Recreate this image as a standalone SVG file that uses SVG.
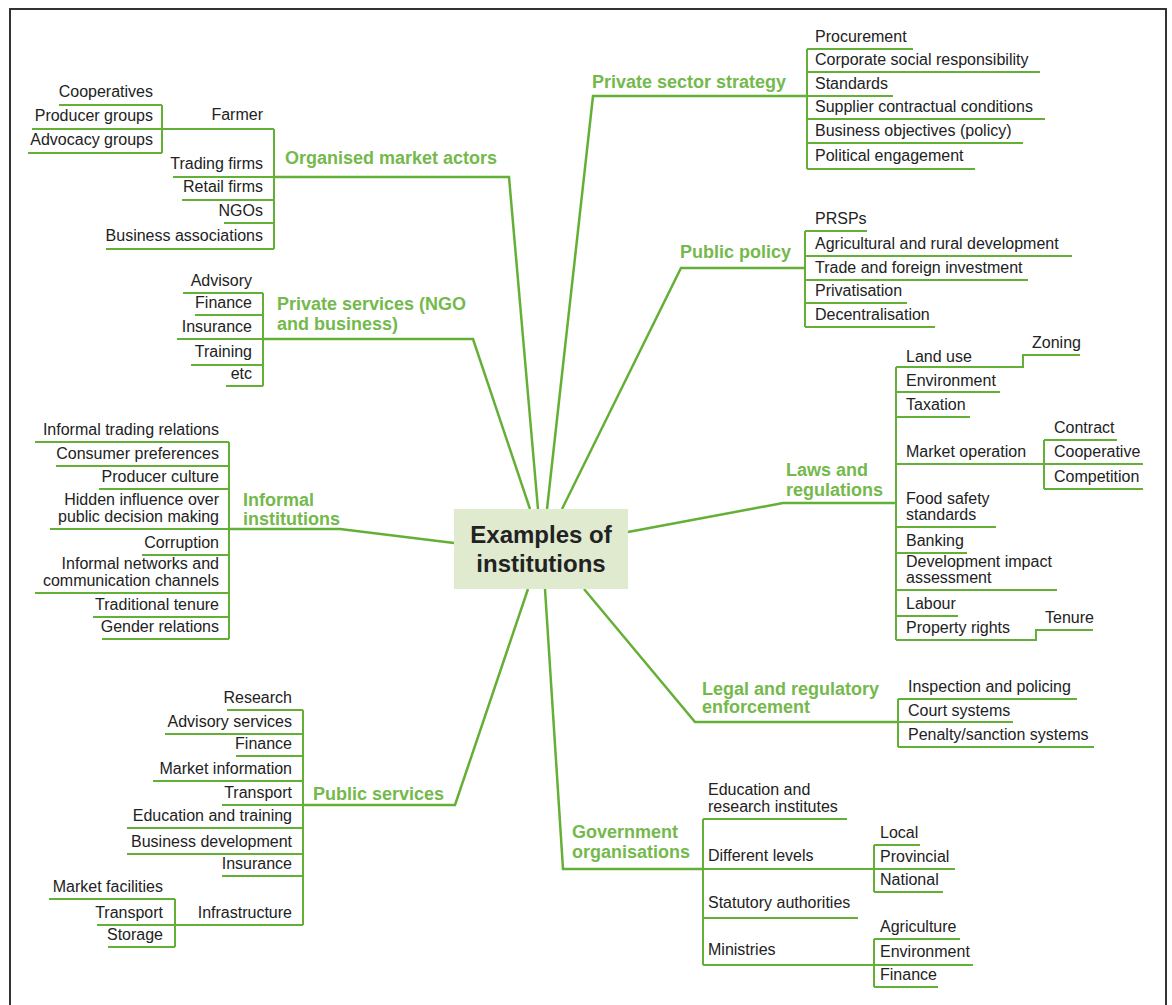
<svg xmlns="http://www.w3.org/2000/svg" width="1172" height="1005" viewBox="0 0 1172 1005">
<style>
.ln{stroke:#64b036;stroke-width:2;fill:none}
.br{stroke:#64b036;stroke-width:2.5;fill:none}
.t{font-family:"Liberation Sans",Arial,sans-serif;font-size:16px;fill:#222}
.e{text-anchor:end}
.lb{font-family:"Liberation Sans",Arial,sans-serif;font-weight:bold;font-size:18px;fill:#74b94c}
.c{font-family:"Liberation Sans",Arial,sans-serif;font-weight:bold;font-size:24px;fill:#222;text-anchor:middle}
</style>
<rect x="0" y="0" width="1172" height="1005" fill="#fff"/>
<rect x="10" y="9" width="1156" height="1010" fill="none" stroke="#333" stroke-width="2"/>

<g id="connectors">
  <!-- main branches -->
  <path class="br" d="M538,509 L509,177 L274,177"/>
  <path class="br" d="M530,509 L473,339 L263,339"/>
  <path class="br" d="M547,509 L593,96 L807,96"/>
  <path class="br" d="M562,509 L681,268 L805,268"/>
  <path class="br" d="M454,543 L340,529 L229,529"/>
  <path class="br" d="M628,532 L783,503 L896,503"/>
  <path class="br" d="M584,589 L695,722 L898,722"/>
  <path class="br" d="M545,589 L563,869 L703,869"/>
  <path class="br" d="M528,589 L455,805 L303,805"/>
  <!-- organised market actors -->
  <path class="ln" d="M274,129 V249 M274,129 H32 M162,105 V153 M59,105 H162 M28,153 H162 M173,177 H274 M182,200 H274 M224,223 H274 M106,249 H274"/>
  <!-- private services -->
  <path class="ln" d="M263,293 V386 M183,293 H263 M195,315 H263 M177,339 H263 M191,365 H263 M226,386 H263"/>
  <!-- informal institutions -->
  <path class="ln" d="M229,442 V639 M35,442 H229 M56,466 H229 M99,489 H229 M50,529 H229 M142,555 H229 M35,593 H229 M93,617 H229 M102,639 H229"/>
  <!-- public services -->
  <path class="ln" d="M303,710 V925 M227,710 H303 M165,734 H303 M236,756 H303 M153,781 H303 M222,805 H303 M127,828 H303 M127,854 H303 M222,876 H303 M97,925 H303 M175,899 V947 M49,899 H175 M108,947 H175"/>
  <!-- private sector strategy -->
  <path class="ln" d="M807,49 V169 M807,49 H913 M807,72 H1040 M807,96 H893 M807,119 H1045 M807,143 H1023 M807,169 H975"/>
  <!-- public policy -->
  <path class="ln" d="M805,231 V327 M805,231 H867 M805,256 H1072 M805,280 H1028 M805,303 H907 M805,327 H935"/>
  <!-- laws and regulations -->
  <path class="ln" d="M896,367 V640 M896,367 H1023 V355 H1080 M896,392 H1000 M896,417 H970 M896,464 H1143 M1044,440 V489 M1044,440 H1117 M1044,489 H1143 M896,527 H996 M896,553 H967 M896,590 H1057 M896,616 H958 M896,640 H1036 V630 H1093"/>
  <!-- legal enforcement -->
  <path class="ln" d="M898,699 V747 M898,699 H1077 M898,722 H1013 M898,747 H1094"/>
  <!-- government organisations -->
  <path class="ln" d="M703,819 V965 M703,819 H847 M703,869 H955 M874,845 V892 M874,845 H920 M874,892 H943 M703,918 H858 M703,965 H973 M874,939 V987 M874,939 H960 M874,987 H938"/>
</g>

<g id="center">
  <rect x="454" y="509" width="174" height="80" fill="#dfeacf"/>
  <text class="c" x="541" y="543">Examples of</text>
  <text class="c" x="541" y="572">institutions</text>
</g>

<g id="organised-market-actors">
  <text class="lb" x="285" y="164">Organised market actors</text>
  <text class="t e" x="263" y="120">Farmer</text>
  <text class="t e" x="153" y="97">Cooperatives</text>
  <text class="t e" x="153" y="121">Producer groups</text>
  <text class="t e" x="153" y="145">Advocacy groups</text>
  <text class="t e" x="263" y="169">Trading firms</text>
  <text class="t e" x="263" y="192">Retail firms</text>
  <text class="t e" x="263" y="216">NGOs</text>
  <text class="t e" x="263" y="241">Business associations</text>
</g>

<g id="private-services">
  <text class="lb" x="277" y="310">Private services (NGO</text>
  <text class="lb" x="277" y="330">and business)</text>
  <text class="t e" x="252" y="286">Advisory</text>
  <text class="t e" x="252" y="308">Finance</text>
  <text class="t e" x="252" y="332">Insurance</text>
  <text class="t e" x="252" y="357">Training</text>
  <text class="t e" x="252" y="379">etc</text>
</g>

<g id="informal-institutions">
  <text class="lb" x="243" y="506">Informal</text>
  <text class="lb" x="243" y="525">institutions</text>
  <text class="t e" x="219" y="435">Informal trading relations</text>
  <text class="t e" x="219" y="459">Consumer preferences</text>
  <text class="t e" x="219" y="482">Producer culture</text>
  <text class="t e" x="219" y="505">Hidden influence over</text>
  <text class="t e" x="219" y="522">public decision making</text>
  <text class="t e" x="219" y="548">Corruption</text>
  <text class="t e" x="219" y="569">Informal networks and</text>
  <text class="t e" x="219" y="586">communication channels</text>
  <text class="t e" x="219" y="610">Traditional tenure</text>
  <text class="t e" x="219" y="632">Gender relations</text>
</g>

<g id="public-services">
  <text class="lb" x="313" y="800">Public services</text>
  <text class="t e" x="292" y="703">Research</text>
  <text class="t e" x="292" y="727">Advisory services</text>
  <text class="t e" x="292" y="749">Finance</text>
  <text class="t e" x="292" y="774">Market information</text>
  <text class="t e" x="292" y="798">Transport</text>
  <text class="t e" x="292" y="821">Education and training</text>
  <text class="t e" x="292" y="847">Business development</text>
  <text class="t e" x="292" y="869">Insurance</text>
  <text class="t e" x="292" y="918">Infrastructure</text>
  <text class="t e" x="163" y="892">Market facilities</text>
  <text class="t e" x="163" y="918">Transport</text>
  <text class="t e" x="163" y="940">Storage</text>
</g>

<g id="private-sector-strategy">
  <text class="lb" x="592" y="88">Private sector strategy</text>
  <text class="t" x="815" y="42">Procurement</text>
  <text class="t" x="815" y="65">Corporate social responsibility</text>
  <text class="t" x="815" y="89">Standards</text>
  <text class="t" x="815" y="112">Supplier contractual conditions</text>
  <text class="t" x="815" y="136">Business objectives (policy)</text>
  <text class="t" x="815" y="161">Political engagement</text>
</g>

<g id="public-policy">
  <text class="lb" x="680" y="258">Public policy</text>
  <text class="t" x="815" y="224">PRSPs</text>
  <text class="t" x="815" y="249">Agricultural and rural development</text>
  <text class="t" x="815" y="273">Trade and foreign investment</text>
  <text class="t" x="815" y="296">Privatisation</text>
  <text class="t" x="815" y="320">Decentralisation</text>
</g>

<g id="laws-and-regulations">
  <text class="lb" x="786" y="476">Laws and</text>
  <text class="lb" x="786" y="496">regulations</text>
  <text class="t" x="906" y="362">Land use</text>
  <text class="t" x="1032" y="348">Zoning</text>
  <text class="t" x="906" y="386">Environment</text>
  <text class="t" x="906" y="410">Taxation</text>
  <text class="t" x="906" y="457">Market operation</text>
  <text class="t" x="1054" y="433">Contract</text>
  <text class="t" x="1054" y="457">Cooperative</text>
  <text class="t" x="1054" y="482">Competition</text>
  <text class="t" x="906" y="504">Food safety</text>
  <text class="t" x="906" y="520">standards</text>
  <text class="t" x="906" y="546">Banking</text>
  <text class="t" x="906" y="567">Development impact</text>
  <text class="t" x="906" y="583">assessment</text>
  <text class="t" x="906" y="609">Labour</text>
  <text class="t" x="906" y="633">Property rights</text>
  <text class="t" x="1045" y="623">Tenure</text>
</g>

<g id="legal-enforcement">
  <text class="lb" x="702" y="695">Legal and regulatory</text>
  <text class="lb" x="702" y="713">enforcement</text>
  <text class="t" x="908" y="692">Inspection and policing</text>
  <text class="t" x="908" y="716">Court systems</text>
  <text class="t" x="908" y="740">Penalty/sanction systems</text>
</g>

<g id="government-organisations">
  <text class="lb" x="572" y="838">Government</text>
  <text class="lb" x="572" y="858">organisations</text>
  <text class="t" x="708" y="795">Education and</text>
  <text class="t" x="708" y="812">research institutes</text>
  <text class="t" x="708" y="861">Different levels</text>
  <text class="t" x="880" y="838">Local</text>
  <text class="t" x="880" y="862">Provincial</text>
  <text class="t" x="880" y="885">National</text>
  <text class="t" x="708" y="908">Statutory authorities</text>
  <text class="t" x="708" y="955">Ministries</text>
  <text class="t" x="880" y="932">Agriculture</text>
  <text class="t" x="880" y="957">Environment</text>
  <text class="t" x="880" y="980">Finance</text>
</g>
</svg>
